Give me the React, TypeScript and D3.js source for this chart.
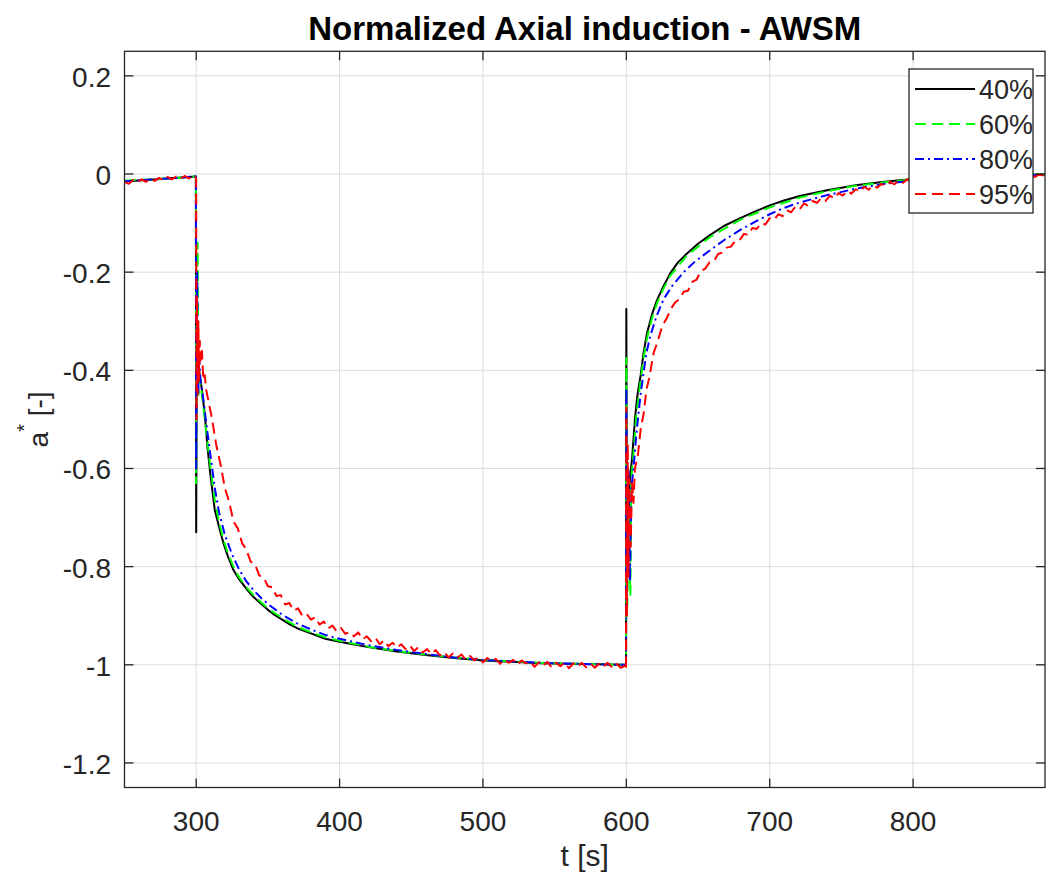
import React from 'react';
import * as d3 from 'd3';

const xTicks = [300, 400, 500, 600, 700, 800];
const xTickLabels = ['300', '400', '500', '600', '700', '800'];
const yTicks = [-1.2, -1, -0.8, -0.6, -0.4, -0.2, 0, 0.2];
const yTickLabels = ['-1.2', '-1', '-0.8', '-0.6', '-0.4', '-0.2', '0', '0.2'];
const seriesNames = ['40%', '60%', '80%', '95%'];
const seriesColors = ['#000000', '#00ff00', '#0000ff', '#ff0000'];
const seriesDash = ['', '11,6', '9,4,2,4', '11,6'];

const s40: [number, number][] = [
  [250, -0.015], [260, -0.013], [270, -0.011], [280, -0.009], [290, -0.007], [299.8, -0.005],
  [300, -0.73], [300.4, -0.36], [301, -0.38], [302, -0.4], [304, -0.44], [306, -0.49], [308, -0.56],
  [310, -0.615], [313, -0.685], [316, -0.72], [319, -0.752], [322, -0.778], [326, -0.807], [330, -0.826],
  [335, -0.845], [340, -0.862], [345, -0.875], [350, -0.888], [355, -0.899], [360, -0.908], [365, -0.917],
  [370, -0.925], [380, -0.936], [390, -0.947], [400, -0.953], [420, -0.964], [440, -0.973], [460, -0.98],
  [480, -0.986], [500, -0.991], [520, -0.994], [540, -0.997], [560, -0.998], [580, -0.999], [599.8, -1.0],
  [600, -0.275], [600.4, -0.85], [601.5, -0.7], [602.5, -0.62], [604, -0.58], [605, -0.54], [606, -0.5],
  [607, -0.47], [608, -0.445], [610, -0.41], [612, -0.365], [614.4, -0.325], [618, -0.285], [621.4, -0.257],
  [626, -0.228], [630.7, -0.202], [636, -0.18], [642.3, -0.162], [650, -0.142], [658.6, -0.124],
  [668, -0.106], [679.5, -0.09], [690, -0.076], [700, -0.064], [710, -0.054], [721, -0.045], [740, -0.033],
  [760, -0.023], [780, -0.016], [800, -0.01], [820, -0.006], [840, -0.004], [860, -0.002], [892, -0.001],
];

const s60: [number, number][] = [
  [250, -0.014], [260, -0.012], [270, -0.011], [280, -0.009], [290, -0.007], [299.8, -0.005],
  [300, -0.63], [300.5, -0.3], [301, -0.14], [301.6, -0.45], [302, -0.4], [304, -0.45], [306, -0.5],
  [308, -0.55], [310, -0.6], [313, -0.665], [316, -0.71], [319, -0.745], [322, -0.772], [326, -0.8],
  [330, -0.822], [335, -0.842], [340, -0.858], [345, -0.872], [350, -0.885], [360, -0.905], [370, -0.922],
  [380, -0.934], [390, -0.944], [400, -0.951], [420, -0.963], [440, -0.972], [460, -0.979], [480, -0.985],
  [500, -0.99], [540, -0.996], [580, -0.999], [599.8, -1.0],
  [600, -0.375], [600.5, -0.9], [602, -0.7], [602.8, -0.86], [603.5, -0.62], [605, -0.57], [607, -0.49],
  [610, -0.42], [612, -0.375], [614.4, -0.335], [618, -0.293], [621.4, -0.263], [626, -0.233],
  [630.7, -0.207], [642.3, -0.166], [658.6, -0.128], [679.5, -0.093], [700, -0.068], [721, -0.048],
  [740, -0.035], [760, -0.024], [780, -0.017], [800, -0.011], [840, -0.004], [892, -0.001],
];

const s80: [number, number][] = [
  [250, -0.015], [260, -0.013], [270, -0.011], [280, -0.009], [290, -0.007], [299.8, -0.005],
  [300, -0.6], [300.7, -0.2], [301.5, -0.45], [302, -0.37], [303, -0.42], [305, -0.46], [308, -0.53],
  [310, -0.575], [313, -0.64], [316, -0.69], [320, -0.735], [325, -0.775], [330, -0.806], [335, -0.83],
  [340, -0.848], [345, -0.863], [350, -0.876], [360, -0.898], [370, -0.915], [380, -0.928], [390, -0.939],
  [400, -0.947], [420, -0.96], [440, -0.97], [460, -0.978], [480, -0.985], [500, -0.99], [540, -0.996],
  [580, -0.999], [599.8, -1.0],
  [600, -0.435], [600.5, -0.75], [601.5, -0.6], [602.5, -0.83], [603.5, -0.64], [605, -0.6], [607, -0.53],
  [609.7, -0.455], [612, -0.405], [614, -0.365], [616.7, -0.33], [621, -0.29], [626, -0.255],
  [632, -0.228], [640, -0.2], [648, -0.178], [658.6, -0.155], [668, -0.135], [679.5, -0.114],
  [690, -0.097], [700, -0.082], [710, -0.069], [721, -0.058], [740, -0.043], [760, -0.03], [780, -0.02],
  [800, -0.013], [820, -0.008], [840, -0.005], [860, -0.003], [892, -0.002],
];

const s95: [number, number][] = [
  [250, -0.016], [253, -0.02], [256, -0.012], [259, -0.017], [262, -0.011], [265, -0.016], [268, -0.009],
  [271, -0.014], [274, -0.008], [277, -0.013], [280, -0.006], [283, -0.011], [286, -0.005], [289, -0.01],
  [292, -0.004], [295, -0.009], [298, -0.002], [299.6, -0.007],
  [300, -0.01], [300.2, -0.5], [300.5, -0.25], [301, -0.45], [301.5, -0.3], [302, -0.42], [302.5, -0.34],
  [303, -0.38], [304, -0.36], [305, -0.42], [306, -0.41], [307, -0.44], [308, -0.455],
  [311, -0.498], [314, -0.552], [317, -0.592], [320, -0.64], [323, -0.668], [326, -0.708], [329, -0.722],
  [332, -0.752], [335, -0.765], [338, -0.79], [341, -0.795], [344, -0.818], [347, -0.822], [350, -0.84],
  [353, -0.842], [356, -0.86], [359, -0.858], [362, -0.877], [365, -0.874], [368, -0.89], [371, -0.885],
  [374, -0.9], [377, -0.896], [380, -0.908], [383, -0.903], [386, -0.918], [389, -0.912], [392, -0.926],
  [395, -0.92], [398, -0.932], [401, -0.925], [404, -0.937], [407, -0.933], [410, -0.942], [413, -0.934],
  [416, -0.948], [419, -0.942], [422, -0.952], [425, -0.945], [428, -0.958], [431, -0.95], [434, -0.962],
  [437, -0.955], [440, -0.965], [443, -0.958], [446, -0.968], [449, -0.96], [452, -0.972], [455, -0.964],
  [458, -0.975], [461, -0.968], [464, -0.978], [467, -0.97], [470, -0.981], [473, -0.974], [476, -0.985],
  [479, -0.977], [482, -0.986], [485, -0.979], [488, -0.99], [491, -0.982], [494, -0.991], [497, -0.984],
  [500, -0.995], [503, -0.986], [506, -0.993], [509, -0.988], [512, -0.998], [515, -0.989], [518, -0.996],
  [521, -0.99], [524, -1.0], [527, -0.991], [530, -0.997], [533, -0.993], [536, -1.004], [539, -0.995],
  [542, -1.002], [545, -0.994], [548, -1.006], [551, -0.996], [554, -1.003], [557, -0.995], [560, -1.007],
  [563, -0.997], [566, -1.004], [569, -0.996], [572, -1.005], [575, -0.997], [578, -1.006], [581, -0.998],
  [584, -1.004], [587, -0.996], [590, -1.005], [593, -0.997], [596, -1.006], [599, -1.002], [599.8, -1.01],
  [600, -0.475], [600.4, -0.9], [601, -0.55], [601.5, -0.82], [602, -0.62], [603, -0.76], [604, -0.63],
  [605, -0.67], [606, -0.6], [608, -0.575], [610, -0.52], [612, -0.49], [614, -0.44], [616, -0.415],
  [619, -0.365], [622, -0.34], [625, -0.31], [628, -0.295], [631, -0.275], [634, -0.262], [637, -0.255],
  [640, -0.24], [643, -0.238], [646, -0.22], [649, -0.215], [652, -0.198], [655, -0.193], [658, -0.18],
  [661, -0.178], [664, -0.163], [667, -0.16], [670, -0.15], [673, -0.148], [676, -0.136], [679, -0.135],
  [682, -0.122], [685, -0.124], [688, -0.11], [691, -0.112], [694, -0.1], [697, -0.103], [700, -0.09],
  [703, -0.094], [706, -0.082], [709, -0.086], [712, -0.074], [715, -0.078], [718, -0.066], [721, -0.071],
  [724, -0.06], [727, -0.065], [730, -0.055], [733, -0.059], [736, -0.049], [739, -0.055], [742, -0.044],
  [745, -0.05], [748, -0.039], [751, -0.044], [754, -0.034], [757, -0.04], [760, -0.031], [763, -0.036],
  [766, -0.026], [769, -0.032], [772, -0.023], [775, -0.028], [778, -0.02], [781, -0.025], [784, -0.016],
  [787, -0.021], [790, -0.013], [793, -0.018], [796, -0.011], [799, -0.015], [802, -0.009], [805, -0.013],
  [808, -0.007], [812, -0.011], [820, -0.008], [830, -0.007], [840, -0.005], [850, -0.006], [860, -0.003],
  [870, -0.005], [880, -0.002], [885, -0.006], [888, -0.001], [892, -0.004],
];

const allSeries = [s40, s60, s80, s95];

const W = 1046;
const H = 882;
const L = 124.5;
const R = 1045;
const T = 51.3;
const B = 787.5;
const FONT = '"Liberation Sans", Arial, Helvetica, sans-serif';
const AX = '#262626';

export default function App() {
  const x = d3.scaleLinear().domain([250, 892]).range([L, R]);
  const y = d3.scaleLinear().domain([-1.25, 0.25]).range([B, T]);
  const line = d3
    .line<[number, number]>()
    .x((d) => x(d[0]))
    .y((d) => y(d[1]));

  const legX = 909;
  const legY = 69;
  const legW = 124;
  const legH = 144;
  const rowY = [89, 124, 159, 194];

  return (
    <svg
      width={W}
      height={H}
      style={{ position: 'absolute', left: 0, top: 0, background: '#fff' }}
      fontFamily={FONT}
    >
      <rect x={0} y={0} width={W} height={H} fill="#fff" />
      <defs>
        <clipPath id="plotclip">
          <rect x={L} y={T} width={R - L} height={B - T} />
        </clipPath>
      </defs>
      <g stroke="#dcdcdc" strokeWidth={1}>
        {xTicks.map((t) => (
          <line key={'gx' + t} x1={x(t)} x2={x(t)} y1={T} y2={B} />
        ))}
        {yTicks.map((t) => (
          <line key={'gy' + t} x1={L} x2={R} y1={y(t)} y2={y(t)} />
        ))}
      </g>
      <g clipPath="url(#plotclip)" fill="none">
        {allSeries.map((s, i) => (
          <path
            key={seriesNames[i]}
            d={line(s) || ''}
            stroke={seriesColors[i]}
            strokeWidth={2}
            strokeDasharray={seriesDash[i] || undefined}
            strokeLinejoin="round"
          />
        ))}
      </g>
      <rect x={L} y={T} width={R - L} height={B - T} fill="none" stroke={AX} strokeWidth={1.3} />
      <g stroke={AX} strokeWidth={1.3}>
        {xTicks.map((t) => (
          <g key={'tx' + t}>
            <line x1={x(t)} x2={x(t)} y1={B} y2={B - 9} />
            <line x1={x(t)} x2={x(t)} y1={T} y2={T + 9} />
          </g>
        ))}
        {yTicks.map((t) => (
          <g key={'ty' + t}>
            <line x1={L} x2={L + 9} y1={y(t)} y2={y(t)} />
            <line x1={R} x2={R - 9} y1={y(t)} y2={y(t)} />
          </g>
        ))}
      </g>
      <g fill={AX} fontSize={28}>
        {xTicks.map((t, i) => (
          <text key={'lx' + t} x={x(t)} y={831} textAnchor="middle">
            {xTickLabels[i]}
          </text>
        ))}
        {yTicks.map((t, i) => (
          <text key={'ly' + t} x={111} y={y(t) + 11} textAnchor="end">
            {yTickLabels[i]}
          </text>
        ))}
      </g>
      <text x={(L + R) / 2} y={866} textAnchor="middle" fontSize={30} fill={AX}>
        t [s]
      </text>
      <text transform={`translate(48,${(T + B) / 2}) rotate(-90)`} textAnchor="middle" fontSize={28} fill={AX}>
        a
        <tspan dy={-17} fontSize={20}>*</tspan>
        <tspan dy={17}> [-]</tspan>
      </text>
      <text x={(L + R) / 2} y={40} textAnchor="middle" fontSize={33} fontWeight="bold" fill="#000">
        Normalized Axial induction - AWSM
      </text>
      <g>
        <rect x={legX} y={legY} width={legW} height={legH} fill="#fff" stroke={AX} strokeWidth={1.3} />
        {seriesNames.map((n, i) => (
          <g key={'leg' + n}>
            <line
              x1={915}
              x2={975}
              y1={rowY[i]}
              y2={rowY[i]}
              stroke={seriesColors[i]}
              strokeWidth={2}
              strokeDasharray={seriesDash[i] || undefined}
            />
            <text x={979} y={rowY[i] + 10} fontSize={27} fill={AX}>
              {n}
            </text>
          </g>
        ))}
      </g>
    </svg>
  );
}
